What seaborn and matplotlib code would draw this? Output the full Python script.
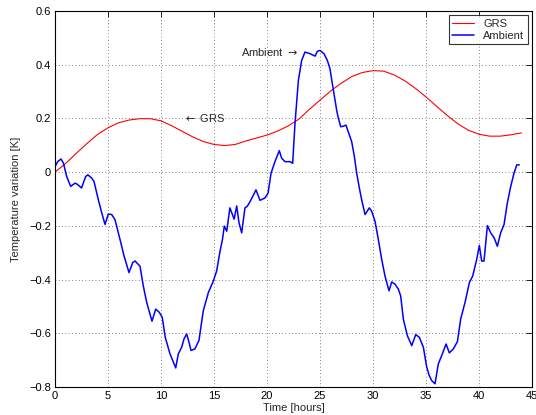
import matplotlib
matplotlib.use("Agg")
import matplotlib.pyplot as plt
import seaborn as sns
import pandas as pd

# GRS model output, one value per hour
grs_time = list(range(0, 45))
grs_temp = [0.000, 0.032, 0.070, 0.106, 0.140, 0.165, 0.184, 0.194, 0.199, 0.199,
            0.191, 0.173, 0.152, 0.131, 0.114, 0.103, 0.099, 0.103, 0.116, 0.127,
            0.138, 0.153, 0.172, 0.197, 0.234, 0.268, 0.302, 0.331, 0.356, 0.371,
            0.378, 0.376, 0.362, 0.340, 0.312, 0.280, 0.245, 0.211, 0.180, 0.156,
            0.141, 0.134, 0.134, 0.139, 0.146]

amb_time = [0.0, 0.25, 0.57, 0.8, 1.1, 1.48, 1.89, 2.1, 2.5, 2.9, 3.1, 3.46, 3.68,
            4.09, 4.4, 4.72, 5.03, 5.35, 5.66, 6.13, 6.5, 6.98, 7.33, 7.55, 8.02,
            8.33, 8.65, 8.96, 9.15, 9.5, 9.84, 10.12, 10.4, 10.85, 11.39, 11.63,
            11.95, 12.17, 12.42, 12.64, 12.83, 13.2, 13.58, 13.99, 14.47, 14.94,
            15.25, 15.57, 15.8, 15.97, 16.2, 16.5, 16.9, 17.14, 17.36, 17.61,
            17.92, 18.14, 18.4, 18.96, 19.34, 19.81, 20.1, 20.38, 20.75, 21.16,
            21.38, 21.7, 22.17, 22.42, 22.64, 22.96, 23.27, 23.58, 24.06, 24.53,
            24.75, 25.0, 25.38, 25.69, 25.94, 26.16, 26.42, 26.57, 26.7, 26.95,
            27.2, 27.45, 27.67, 27.99, 28.24, 28.46, 28.71, 28.93, 29.25, 29.65,
            29.88, 30.19, 30.5, 30.82, 31.13, 31.51, 31.76, 32.08, 32.39, 32.61,
            32.86, 33.24, 33.65, 34.03, 34.37, 34.75, 35.06, 35.3, 35.53, 35.85,
            36.16, 36.48, 36.89, 37.2, 37.58, 37.96, 38.27, 38.68, 39.09, 39.4,
            39.78, 40.03, 40.25, 40.47, 40.79, 41.1, 41.42, 41.73, 42.04, 42.36,
            42.67, 42.99, 43.3, 43.56, 43.8]
amb_temp = [0.020, 0.039, 0.049, 0.033, -0.016, -0.053, -0.041, -0.045, -0.059, -0.016,
            -0.010, -0.022, -0.035, -0.103, -0.150, -0.195, -0.156, -0.158, -0.177,
            -0.250, -0.310, -0.374, -0.337, -0.331, -0.350, -0.424, -0.485, -0.528,
            -0.555, -0.510, -0.522, -0.541, -0.615, -0.677, -0.729, -0.677, -0.652,
            -0.621, -0.603, -0.633, -0.664, -0.658, -0.627, -0.516, -0.448, -0.405,
            -0.368, -0.294, -0.250, -0.201, -0.220, -0.133, -0.175, -0.126, -0.189,
            -0.226, -0.133, -0.127, -0.110, -0.066, -0.105, -0.096, -0.078, -0.004,
            0.039, 0.080, 0.052, 0.039, 0.039, 0.033, 0.181, 0.342, 0.416, 0.447,
            0.441, 0.432, 0.450, 0.453, 0.441, 0.416, 0.385, 0.330, 0.268, 0.231,
            0.206, 0.169, 0.171, 0.175, 0.150, 0.113, 0.058, -0.004, -0.059, -0.103,
            -0.158, -0.133, -0.146, -0.183, -0.251, -0.325, -0.387, -0.442, -0.409,
            -0.417, -0.436, -0.461, -0.547, -0.609, -0.646, -0.605, -0.615, -0.652,
            -0.725, -0.757, -0.776, -0.788, -0.714, -0.683, -0.640, -0.673, -0.658,
            -0.631, -0.547, -0.485, -0.411, -0.387, -0.325, -0.273, -0.331, -0.331,
            -0.199, -0.226, -0.244, -0.276, -0.226, -0.195, -0.115, -0.053, -0.004,
            0.027, 0.027]

x_ticks = [0, 5, 10, 15, 20, 25, 30, 35, 40, 45]
y_ticks = [-0.8, -0.6, -0.4, -0.2, 0, 0.2, 0.4, 0.6]
y_tick_labels = ["\u22120.8", "\u22120.6", "\u22120.4", "\u22120.2", "0", "0.2", "0.4", "0.6"]

sns.set_style("white")
plt.rcParams["font.family"] = ["Liberation Sans", "DejaVu Sans"]
plt.rcParams["font.size"] = 8

grs = pd.DataFrame({"time": grs_time, "temp": grs_temp})
amb = pd.DataFrame({"time": amb_time, "temp": amb_temp})

fig = plt.figure(figsize=(5.36, 4.15), dpi=100)
ax = fig.add_axes([0.1026, 0.0675, 0.89, 0.906])

sns.lineplot(x="time", y="temp", data=grs, color="#ff0000", lw=0.8, label="GRS", ax=ax)
sns.lineplot(x="time", y="temp", data=amb, color="#0000ff", lw=1.1, label="Ambient", ax=ax)

ax.set_xlim(0, 45)
ax.set_ylim(-0.8, 0.6)
ax.set_xticks(x_ticks)
ax.set_yticks(y_ticks)
ax.set_yticklabels(y_tick_labels)
ax.grid(True, linestyle=(0, (1, 3)), color="#555555", linewidth=0.6)
ax.tick_params(direction="in", length=4, width=0.6, top=True, right=True,
               labelsize=8, colors="black", pad=3)
for s in ax.spines.values():
    s.set_color("black")
    s.set_linewidth(0.8)

ax.set_xlabel("Time [hours]", fontsize=8, labelpad=1)
ax.set_ylabel("Temperature variation [K]", fontsize=8, labelpad=6)

ax.text(12.1, 0.2, "$\\leftarrow$ GRS", fontsize=8, ha="left", va="center")
ax.text(22.9, 0.449, "Ambient $\\rightarrow$", fontsize=8, ha="right", va="center")

leg = ax.legend(loc="upper right", fontsize=8, frameon=True, fancybox=False,
                borderaxespad=0.4, handlelength=2.0, borderpad=0.3, labelspacing=0.2)
leg.get_frame().set_edgecolor("black")
leg.get_frame().set_linewidth(0.8)

fig.savefig("out.png", dpi=100)
